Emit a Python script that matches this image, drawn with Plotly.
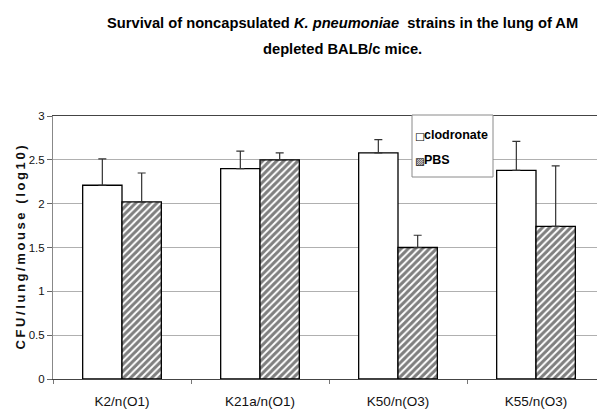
import plotly.graph_objects as go

categories = ["K2/n(O1)", "K21a/n(O1)", "K50/n(O3)", "K55/n(O3)"]
clodronate = [2.21, 2.40, 2.58, 2.38]
clodronate_err = [0.30, 0.20, 0.15, 0.33]
pbs = [2.02, 2.50, 1.50, 1.74]
pbs_err = [0.33, 0.08, 0.14, 0.69]
y_ticks = [0, 0.5, 1, 1.5, 2, 2.5, 3]
y_tick_labels = ["0", "0.5", "1", "1.5", "2", "2.5", "3"]
series_names = ["clodronate", "PBS"]

FONT = "Liberation Sans, Arial, sans-serif"

# page body has an 8px margin: the figure is sized/placed to compensate
W, H = 597, 405
L, R, T, B = 45, 0, 108, 34
PW, PH = W - L - R, H - T - B


def px_x(x):  # page pixel -> paper x
    return (x - 8 - L) / PW


def px_y(y):  # page pixel -> paper y
    return (H - B - (y - 8)) / PH


fig = go.Figure()
fig.add_trace(go.Bar(
    name=series_names[0], x=categories, y=clodronate,
    marker=dict(color="white", line=dict(color="black", width=1.3)),
    error_y=dict(type="data", array=clodronate_err, arrayminus=[0] * 4,
                 symmetric=False, color="#333333", thickness=1.2, width=4),
))
fig.add_trace(go.Bar(
    name=series_names[1], x=categories, y=pbs,
    marker=dict(color="white", line=dict(color="black", width=1.3),
                pattern=dict(shape="/", fgcolor="black", bgcolor="white",
                             size=5, solidity=0.6)),
    error_y=dict(type="data", array=pbs_err, arrayminus=[0] * 4,
                 symmetric=False, color="#333333", thickness=1.2, width=4),
))

fig.update_layout(
    width=W, height=H,
    margin=dict(l=L, r=R, t=T, b=B, pad=0),
    paper_bgcolor="white", plot_bgcolor="white",
    barmode="group", bargap=0.43, bargroupgap=0,
    showlegend=False,
    font=dict(family=FONT, color="black"),
)
fig.update_xaxes(
    type="category", range=[-0.5, 3.5],
    showline=True, linecolor="#444444", linewidth=1.2, mirror=True,
    ticks="outside", tickson="boundaries", ticklen=4, tickcolor="#777777",
    tickfont=dict(family=FONT, size=13.5, color="#111111"),
    ticklabelstandoff=10,
    showgrid=False,
)
fig.update_yaxes(
    range=[0, 3], tickvals=y_ticks, ticktext=y_tick_labels,
    showline=True, linecolor="#888888", linewidth=1,
    ticks="outside", ticklen=5, tickcolor="#666666",
    tickfont=dict(family=FONT, size=11.5, color="#111111"),
    showgrid=True, gridcolor="#b0b0b0", gridwidth=1,
    zeroline=False,
    title=dict(text="<b>C\u2009F\u2009U\u2009/\u2009l\u2009u\u2009n\u2009g\u2009/\u2009m\u2009o\u2009u\u2009s\u2009e\u2009\u2009 (\u2009l\u2009o\u2009g\u20091\u20090\u2009)</b>",
               font=dict(family=FONT, size=13, color="#111111"),
               standoff=0),
)

# title (two centred lines)
fig.add_annotation(
    text="<b>Survival of noncapsulated <i>K. pneumoniae</i>  strains in the lung of AM</b>",
    xref="paper", yref="paper", x=px_x(342), y=px_y(23),
    xanchor="center", yanchor="middle", showarrow=False,
    font=dict(family=FONT, size=14.7, color="black"),
)
fig.add_annotation(
    text="<b>depleted BALB/c mice.</b>",
    xref="paper", yref="paper", x=px_x(342), y=px_y(49),
    xanchor="center", yanchor="middle", showarrow=False,
    font=dict(family=FONT, size=14.7, color="black"),
)

# legend box
fig.add_shape(type="rect", xref="paper", yref="paper",
              x0=px_x(412), x1=px_x(493), y0=px_y(177), y1=px_y(115),
              line=dict(color="#8a8a8a", width=1), fillcolor="white", layer="above")
fig.add_annotation(
    text="<b>\u25a1</b>", xref="paper", yref="paper", x=px_x(413), y=px_y(136),
    xanchor="left", yanchor="middle", showarrow=False,
    font=dict(family="DejaVu Sans, sans-serif", size=10.5, color="black"),
)
fig.add_annotation(
    text="<b>" + series_names[0] + "</b>", xref="paper", yref="paper", x=px_x(422), y=px_y(135),
    xanchor="left", yanchor="middle", showarrow=False,
    font=dict(family=FONT, size=12.5, color="black"),
)
fig.add_annotation(
    text="\u25a8", xref="paper", yref="paper", x=px_x(413), y=px_y(161),
    xanchor="left", yanchor="middle", showarrow=False,
    font=dict(family="DejaVu Sans, sans-serif", size=10.5, color="black"),
)
fig.add_annotation(
    text="<b>" + series_names[1] + "</b>", xref="paper", yref="paper", x=px_x(422), y=px_y(160),
    xanchor="left", yanchor="middle", showarrow=False,
    font=dict(family=FONT, size=12.5, color="black"),
)

fig.write_html("out.html")
